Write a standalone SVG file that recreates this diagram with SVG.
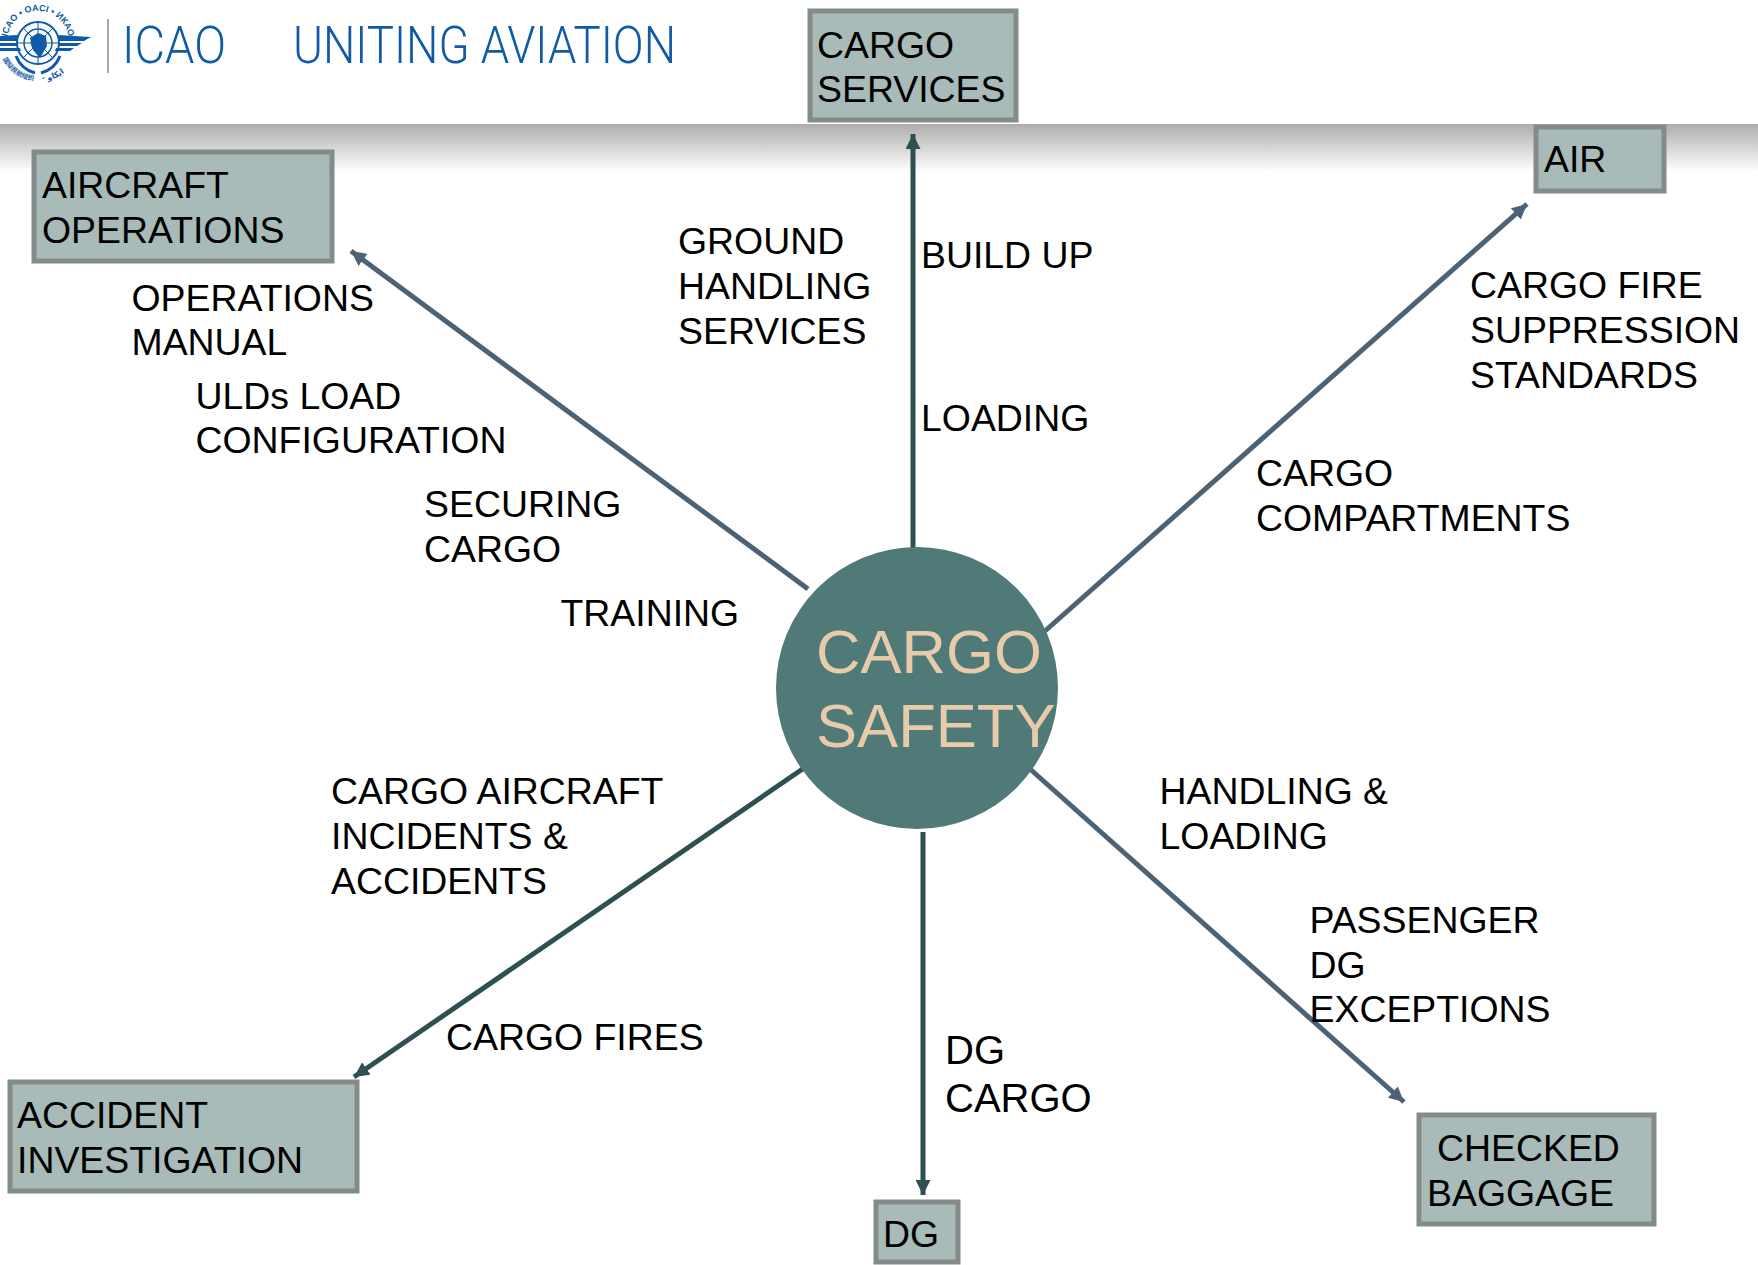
<svg xmlns="http://www.w3.org/2000/svg" width="1758" height="1265" viewBox="0 0 1758 1265">
<style>
text{font-family:"Liberation Sans",Arial,sans-serif}
.l{font-size:37.4px;fill:#000}
.dgl{font-size:40px;fill:#000}
.b{fill:#a8bbb8;stroke:#838c89;stroke-width:5}
.c{fill:none;stroke-width:5}
.d{stroke:#2f5050}.e{stroke:#4d6375}
.t{font-family:Roboto,"Liberation Sans",sans-serif;font-weight:300;font-size:52px;fill:#0f5ba7}
.ct{font-size:61.6px;fill:#e8cbaa}
.w{fill:#0f5ba7}
.ls{fill:none;stroke:#0f5ba7}
</style>
<defs>
<linearGradient id="g" x1="0" y1="0" x2="0" y2="1"><stop offset="0" stop-color="#adadad"/><stop offset="1" stop-color="#fff"/></linearGradient>
<marker id="ad" viewBox="0 0 10 10" refX="10" refY="5" markerUnits="userSpaceOnUse" markerWidth="15" markerHeight="15" orient="auto"><path d="M0 0L10 5L0 10Z" fill="#2f5050"/></marker>
<marker id="ae" viewBox="0 0 10 10" refX="10" refY="5" markerUnits="userSpaceOnUse" markerWidth="15" markerHeight="15" orient="auto"><path d="M0 0L10 5L0 10Z" fill="#4d6375"/></marker>
<path id="ring" d="M7 42A31 31 0 0 1 69 42"/>
<path id="ringb" d="M3 59A39 39 0 0 0 36 81"/>
<path id="ringc" d="M42 81A39 39 0 0 0 75 60"/>
</defs>
<rect width="1758" height="1265" fill="#fff"/>
<rect y="124" width="1758" height="48" fill="url(#g)"/>
<g id="logo">
<circle class="ls" cx="38" cy="43" r="21" stroke-width="2"/>
<circle class="ls" cx="38" cy="43" r="14" stroke-width="1.5"/>
<circle class="ls" cx="38" cy="43" r="7" stroke-width="1"/>
<path class="ls" d="M38 22V64M17 43H59M23 28L53 58M53 28L23 58" stroke-width="1"/>
<path class="w" d="M30 38L38 33L46 36L47 46L40 58L33 50Z"/>
<path class="w" d="M58 35L91 37L84 41H58ZM58 43H82L77 46H58ZM56 48H74L70 51H55ZM18 35L0 36V41H18ZM18 43H0V46H18ZM20 48H0V51H21Z"/>
<path class="ls" d="M16 56Q21 69 35 73M60 56Q55 69 41 73" stroke-width="3"/>
<text font-size="9" font-weight="bold" fill="#0f5ba7" text-anchor="middle"><textPath href="#ring" startOffset="50%">ICAO • OACI • ИКАО</textPath></text>
<text font-size="6.5" font-weight="bold" fill="#0f5ba7" style="font-family:'Noto Sans CJK SC','Liberation Sans',sans-serif"><textPath href="#ringb">国际民航组织</textPath></text>
<text font-size="8" font-weight="bold" fill="#0f5ba7" style="font-family:'DejaVu Sans',sans-serif"><textPath href="#ringc">· ايكاو</textPath></text>
<rect x="107" y="19" width="2" height="54" fill="#a9a9a9"/>
<text class="t" x="122" y="63" textLength="104" lengthAdjust="spacingAndGlyphs">ICAO</text>
<text class="t" x="293" y="63" textLength="383" lengthAdjust="spacingAndGlyphs">UNITING AVIATION</text>
</g>
<g id="connectors">
<path class="c d" d="M913 549V134" marker-end="url(#ad)"/>
<path class="c e" d="M808 589L351 251" marker-end="url(#ae)"/>
<path class="c e" d="M1045 631L1527 204" marker-end="url(#ae)"/>
<path class="c e" d="M1030 769L1404 1102" marker-end="url(#ae)"/>
<path class="c d" d="M923 832V1195" marker-end="url(#ad)"/>
<path class="c d" d="M804 768L354 1077" marker-end="url(#ad)"/>
</g>
<g id="center"><circle cx="917" cy="688" r="141" fill="#4f7a78"/><text class="ct" x="816" y="673">CARGO</text><text class="ct" x="816" y="747">SAFETY</text></g>
<g id="cargo-services"><rect class="b" x="810" y="11" width="206" height="109"/><text class="l" x="817" y="58">CARGO</text><text class="l" x="817" y="102">SERVICES</text></g>
<g id="air"><rect class="b" x="1536" y="127" width="128" height="64"/><text class="l" x="1544" y="172">AIR</text></g>
<g id="aircraft-operations"><rect class="b" x="34" y="152" width="298" height="109"/><text class="l" x="42" y="197.5">AIRCRAFT</text><text class="l" x="42" y="242.5">OPERATIONS</text></g>
<g id="accident-investigation"><rect class="b" x="10" y="1082" width="347" height="109"/><text class="l" x="17" y="1128">ACCIDENT</text><text class="l" x="17" y="1173">INVESTIGATION</text></g>
<g id="dg"><rect class="b" x="876" y="1202" width="82" height="60"/><text class="l" x="883" y="1247">DG</text></g>
<g id="checked-baggage"><rect class="b" x="1419" y="1115" width="235" height="109"/><text class="l" x="1437" y="1160.5">CHECKED</text><text class="l" x="1427" y="1205.5">BAGGAGE</text></g>
<g id="labels">
<text class="l" x="678" y="253.5">GROUND</text><text class="l" x="678" y="298.5">HANDLING</text><text class="l" x="678" y="343.5">SERVICES</text>
<text class="l" x="921" y="267.5">BUILD UP</text>
<text class="l" x="921" y="430.5">LOADING</text>
<text class="l" x="1470" y="298">CARGO FIRE</text><text class="l" x="1470" y="342.5">SUPPRESSION</text><text class="l" x="1470" y="387.5">STANDARDS</text>
<text class="l" x="1256" y="485.5">CARGO</text><text class="l" x="1256" y="530.5">COMPARTMENTS</text>
<text class="l" x="131.5" y="310.5">OPERATIONS</text><text class="l" x="131.5" y="354.5">MANUAL</text>
<text class="l" x="195.5" y="408.5">ULDs LOAD</text><text class="l" x="195.5" y="452.5">CONFIGURATION</text>
<text class="l" x="424" y="516.5">SECURING</text><text class="l" x="424" y="561.5">CARGO</text>
<text class="l" x="560.5" y="625.5">TRAINING</text>
<text class="l" x="331" y="803.5">CARGO AIRCRAFT</text><text class="l" x="331" y="848.5">INCIDENTS &amp;</text><text class="l" x="331" y="893.5">ACCIDENTS</text>
<text class="l" x="446" y="1049.5">CARGO FIRES</text>
<text class="dgl" x="945" y="1064">DG</text><text class="dgl" x="945" y="1112">CARGO</text>
<text class="l" x="1159.5" y="803.5">HANDLING &amp;</text><text class="l" x="1159.5" y="848.5">LOADING</text>
<text class="l" x="1309.5" y="933">PASSENGER</text><text class="l" x="1309.5" y="977.5">DG</text><text class="l" x="1309.5" y="1022">EXCEPTIONS</text>
</g>
</svg>
